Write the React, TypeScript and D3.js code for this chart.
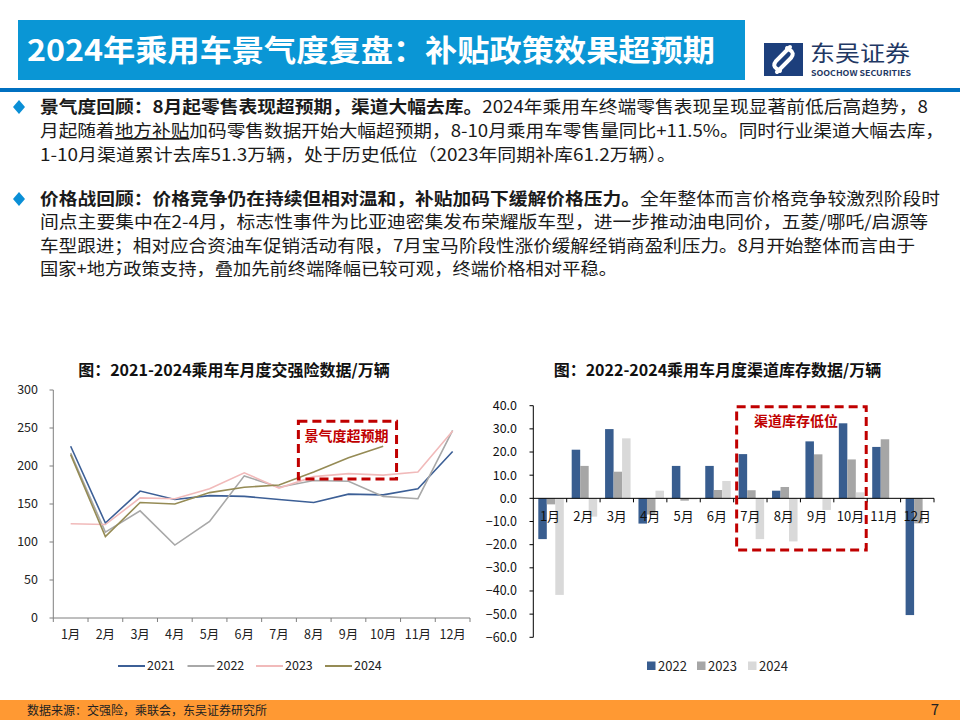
import React from 'react';
import * as d3 from 'd3';

const months = ['1月', '2月', '3月', '4月', '5月', '6月', '7月', '8月', '9月', '10月', '11月', '12月'];

// 交强险 (万辆)
const ins2021 = [226, 125, 167, 156, 161, 160, 156, 152, 163, 162, 170, 219];
const ins2022 = [217, 113, 141, 96, 127, 187, 172, 181, 180, 160, 157, 247];
const ins2023 = [124, 123, 158, 157, 170, 191, 171, 186, 190, 188, 192, 246];
const ins2024: (number | null)[] = [215, 107, 152, 150, 165, 172, 175, 192, 211, 226, null, null];
const insYTicks = [0, 50, 100, 150, 200, 250, 300];

// 渠道库存 (万辆)
const inv2022 = [-17.6, 21, 29.9, -10.9, 14, 14, 19.1, 3.3, 24.6, 32.4, 22.2, -50.4];
const inv2023 = [-2.6, 14, 11.5, -7, -1.0, 3.6, 3.5, 4.9, 19, 16.8, 25.5, -10.8];
const inv2024: (number | null)[] = [-41.7, -7.9, 25.9, 3.3, -0.5, 7.5, -17.6, -18.6, -5.0, 2.6, null, null];
const invYTicks = [-60, -50, -40, -30, -20, -10, 0, 10, 20, 30, 40];

const lineSeries = [
  { name: '2021', values: ins2021 as (number | null)[], color: '#3c5f96' },
  { name: '2022', values: ins2022 as (number | null)[], color: '#a8a8a8' },
  { name: '2023', values: ins2023 as (number | null)[], color: '#f1baba' },
  { name: '2024', values: ins2024, color: '#958b55' },
];
const barSeries = [
  { name: '2022', values: inv2022 as (number | null)[], color: '#385d8f' },
  { name: '2023', values: inv2023 as (number | null)[], color: '#a6a6a6' },
  { name: '2024', values: inv2024, color: '#d9d9d9' },
];

const FONT = '"Noto Sans CJK SC", "Noto Sans", sans-serif';
const RED = '#c00000';

export default function App() {
  // Left chart scales
  const xL = d3.scaleBand<string>().domain(months).range([53.3, 470]);
  const yL = d3.scaleLinear().domain([0, 300]).range([618, 390]);
  const line = d3
    .line<number | null>()
    .defined((d) => d != null)
    .x((_, i) => (xL(months[i]) as number) + xL.bandwidth() / 2)
    .y((d) => yL(d as number));

  // Right chart scales
  const xR = d3.scaleBand<string>().domain(months).range([533.3, 934]);
  const x1 = d3.scaleBand<string>().domain(barSeries.map((s) => s.name)).range([5, 30.5]);
  const yR = d3.scaleLinear().domain([-60, 40]).range([637.3, 405.7]);

  const bodyLines: { y: number; len: number; parts: { t: string; b?: boolean; u?: boolean }[] }[] = [
    { y: 113, len: 888, parts: [{ t: '景气度回顾：8月起零售表现超预期，渠道大幅去库。', b: true }, { t: '2024年乘用车终端零售表现呈现显著前低后高趋势，8' }] },
    { y: 137, len: 904, parts: [{ t: '月起随着' }, { t: '地方补贴', u: true }, { t: '加码零售数据开始大幅超预期，8-10月乘用车零售量同比+11.5%。同时行业渠道大幅去库，' }] },
    { y: 161, len: 636, parts: [{ t: '1-10月渠道累计去库51.3万辆，处于历史低位（2023年同期补库61.2万辆）。' }] },
    { y: 205, len: 900, parts: [{ t: '价格战回顾：价格竞争仍在持续但相对温和，补贴加码下缓解价格压力。', b: true }, { t: '全年整体而言价格竞争较激烈阶段时' }] },
    { y: 228, len: 888, parts: [{ t: '间点主要集中在2-4月，标志性事件为比亚迪密集发布荣耀版车型，进一步推动油电同价，五菱/哪吒/启源等' }] },
    { y: 252, len: 875, parts: [{ t: '车型跟进；相对应合资油车促销活动有限，7月宝马阶段性涨价缓解经销商盈利压力。8月开始整体而言由于' }] },
    { y: 275, len: 577, parts: [{ t: '国家+地方政策支持，叠加先前终端降幅已较可观，终端价格相对平稳。' }] },
  ];

  const lbx0 = (xL('8月') as number) + 2;
  const lbx1 = (xL('10月') as number) + xL.bandwidth() - 4;
  const rbx0 = (xR('7月') as number) + 3;
  const rbx1 = (xR('10月') as number) + xR.bandwidth() - 1;

  return (
    <svg width={960} height={720} style={{ position: 'absolute', left: 0, top: 0, background: '#fff' }} fontFamily={FONT}>
      <rect x={0} y={0} width={960} height={720} fill="#fff" />
      {/* Header */}
      <rect x={18} y={20} width={727} height={60} fill="#0a96d5" />
      <text x={27} y={61} fill="#fff" fontSize={30} fontWeight="bold" textLength={688} lengthAdjust="spacingAndGlyphs">
        2024年乘用车景气度复盘：补贴政策效果超预期
      </text>
      <rect x={0} y={88} width={960} height={4} fill="#0070c0" />
      {/* Logo */}
      <rect x={764} y={43} width={39} height={33} fill="#1d3f7c" />
      <g fill="none" stroke="#fff" strokeWidth={4} strokeLinecap="round">
        <path d="M790,47 L776,61 Q772,66 777,69 L780,71" />
        <path d="M777,72 L791,58 Q795,53 790,50 L787,48" />
      </g>
      <text x={810} y={61} fontSize={22} fill="#1f3864" textLength={100} lengthAdjust="spacingAndGlyphs">东吴证券</text>
      <text x={811} y={76} fontSize={8} fontWeight="bold" fill="#1f3864" textLength={100} lengthAdjust="spacingAndGlyphs">SOOCHOW SECURITIES</text>

      {/* Body text */}
      {[107, 199].map((cy) => (
        <path key={cy} d={`M19,${cy - 7} L25,${cy} L19,${cy + 7} L13,${cy} Z`} fill="#0a8fd6" />
      ))}
      {bodyLines.map((ln, i) => (
        <text key={i} x={40} y={ln.y} fontSize={17} fill="#1a1a1a" textLength={ln.len} lengthAdjust="spacingAndGlyphs">
          {ln.parts.map((p, j) => (
            <tspan key={j} fontWeight={p.b ? 'bold' : 'normal'} style={p.u ? { textDecoration: 'underline' } : undefined}>
              {p.t}
            </tspan>
          ))}
        </text>
      ))}

      {/* Left chart */}
      <text x={234} y={376} textAnchor="middle" fontSize={16} fontWeight="bold" fill="#111">
        图：2021-2024乘用车月度交强险数据/万辆
      </text>
      <line x1={53.3} x2={53.3} y1={390} y2={618} stroke="#7f7f7f" />
      {insYTicks.map((t) => (
        <g key={t}>
          <line x1={49.5} x2={53.3} y1={yL(t)} y2={yL(t)} stroke="#7f7f7f" />
          <text x={38} y={yL(t)} dy="0.35em" textAnchor="end" fontSize={12.5} fill="#222">{t}</text>
        </g>
      ))}
      <line x1={53.3} x2={470} y1={618} y2={618} stroke="#7f7f7f" />
      {months.map((m, i) => (
        <g key={m}>
          <line x1={(xL(m) as number) + xL.bandwidth()} x2={(xL(m) as number) + xL.bandwidth()} y1={618} y2={622} stroke="#7f7f7f" />
          {i === 0 && <line x1={xL(m) as number} x2={xL(m) as number} y1={618} y2={622} stroke="#7f7f7f" />}
          <text x={(xL(m) as number) + xL.bandwidth() / 2} y={635} dy="0.35em" textAnchor="middle" fontSize={12.5} fill="#222">{m}</text>
        </g>
      ))}
      {lineSeries.map((s) => (
        <path key={s.name} d={line(s.values) || ''} fill="none" stroke={s.color} strokeWidth={1.6} />
      ))}
      <rect x={lbx0} y={yL(259)} width={lbx1 - lbx0} height={yL(183) - yL(259)} fill="none" stroke={RED} strokeWidth={3} strokeDasharray="9 5" />
      <text x={(lbx0 + lbx1) / 2 - 1} y={436} dy="0.35em" textAnchor="middle" fontSize={14} fontWeight="bold" fill={RED}>景气度超预期</text>
      {lineSeries.map((s, i) => {
        const lx = [118, 187.5, 256, 325][i];
        return (
          <g key={s.name}>
            <line x1={lx} x2={lx + 27} y1={666} y2={666} stroke={s.color} strokeWidth={2} />
            <text x={lx + 29} y={666} dy="0.35em" fontSize={12.5} fill="#222">{s.name}</text>
          </g>
        );
      })}

      {/* Right chart */}
      <text x={717.5} y={376} textAnchor="middle" fontSize={16} fontWeight="bold" fill="#111">
        图：2022-2024乘用车月度渠道库存数据/万辆
      </text>
      {barSeries.map((s) =>
        s.values.map((v, i) =>
          v == null ? null : (
            <rect
              key={s.name + i}
              x={(xR(months[i]) as number) + (x1(s.name) as number)}
              y={yR(Math.max(0, v))}
              width={x1.bandwidth()}
              height={Math.abs(yR(v) - yR(0))}
              fill={s.color}
            />
          )
        )
      )}
      <line x1={533.3} x2={533.3} y1={405.7} y2={637.3} stroke="#000" />
      {invYTicks.map((t) => (
        <g key={t}>
          <line x1={529.5} x2={533.3} y1={yR(t)} y2={yR(t)} stroke="#000" />
          <text x={517} y={yR(t)} dy="0.35em" textAnchor="end" fontSize={12.5} fill="#111">{d3.format('.1f')(t)}</text>
        </g>
      ))}
      <line x1={533.3} x2={934} y1={yR(0)} y2={yR(0)} stroke="#000" />
      {months.map((m) => (
        <g key={m}>
          <line x1={(xR(m) as number) + xR.bandwidth()} x2={(xR(m) as number) + xR.bandwidth()} y1={yR(0)} y2={yR(0) + 4} stroke="#000" />
          <text x={(xR(m) as number) + xR.bandwidth() / 2} y={516} dy="0.35em" textAnchor="middle" fontSize={13} fill="#111">{m}</text>
        </g>
      ))}
      <rect x={rbx0} y={yR(39.6)} width={rbx1 - rbx0} height={yR(-22.3) - yR(39.6)} fill="none" stroke={RED} strokeWidth={3} strokeDasharray="9 5" />
      <text x={796} y={421} dy="0.35em" textAnchor="middle" fontSize={14} fontWeight="bold" fill={RED}>渠道库存低位</text>
      {barSeries.map((s, i) => {
        const lx = [647, 697, 748][i];
        return (
          <g key={s.name}>
            <rect x={lx} y={661.5} width={8.5} height={8.5} fill={s.color} />
            <text x={lx + 11} y={666} dy="0.35em" fontSize={13} fill="#222">{s.name}</text>
          </g>
        );
      })}

      {/* Footer */}
      <rect x={0} y={700} width={960} height={20} fill="#ff9933" />
      <text x={27} y={711} dy="0.35em" fontSize={12} fill="#222">数据来源：交强险，乘联会，东吴证券研究所</text>
      <text x={935} y={710} dy="0.35em" textAnchor="middle" fontSize={15} fill="#222">7</text>
    </svg>
  );
}
